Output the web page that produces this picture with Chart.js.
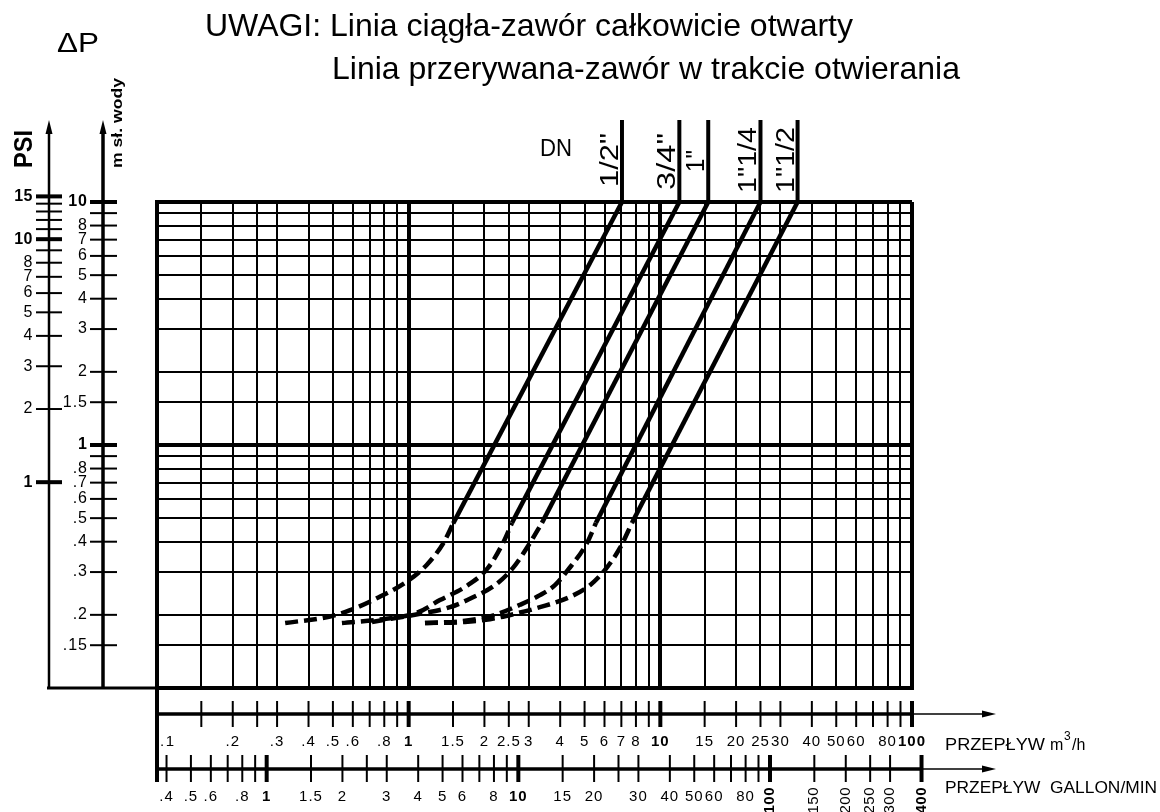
<!DOCTYPE html>
<html><head><meta charset="utf-8">
<script src="https://cdn.jsdelivr.net/npm/chart.js@4.4.0/dist/chart.umd.min.js"></script>
<style>html,body{margin:0;padding:0;background:#fff;}canvas{display:block;}</style>
</head><body>
<canvas id="c" width="1160" height="812" style="width:1160px;height:812px"></canvas>
<script>
// ---------- DATA ----------
const flowGrid = [0.1,0.15,0.2,0.25,0.3,0.4,0.5,0.6,0.7,0.8,0.9,1,1.5,2,2.5,3,4,5,6,7,8,9,10,15,20,25,30,40,50,60,70,80,90,100];
const dpGrid = [0.1,0.15,0.2,0.3,0.4,0.5,0.6,0.7,0.8,0.9,1,1.5,2,3,4,5,6,7,8,9,10];
const flowLabelValues = [0.1,0.2,0.3,0.4,0.5,0.6,0.8,1,1.5,2,2.5,3,4,5,6,7,8,10,15,20,25,30,40,50,60,80,100];
const flowLabelTexts = ['.1','.2','.3','.4','.5','.6','.8','1','1.5','2','2.5','3','4','5','6','7','8','10','15','20','25','30','40','50','60','80','100'];
const gpmTickValues = [0.4,0.5,0.6,0.7,0.8,0.9,1,1.5,2,2.5,3,4,5,6,7,8,9,10,15,20,25,30,40,50,60,70,80,90,100,150,200,250,300,400];
const gpmLabelValues = [0.4,0.5,0.6,0.8,1,1.5,2,3,4,5,6,8,10,15,20,30,40,50,60,80,100,150,200,250,300,400];
const gpmLabelTexts = ['.4','.5','.6','.8','1','1.5','2','3','4','5','6','8','10','15','20','30','40','50','60','80','100','150','200','250','300','400'];
const mTickValues = [0.15,0.2,0.3,0.4,0.5,0.6,0.7,0.8,0.9,1,1.5,2,3,4,5,6,7,8,9,10];
const mLabelValues = [10,8,7,6,5,4,3,2,1.5,1,0.8,0.7,0.6,0.5,0.4,0.3,0.2,0.15];
const mLabelTexts = ['10','8','7','6','5','4','3','2','1.5','1','.8','.7','.6','.5','.4','.3','.2','.15'];
const psiTickValues = [15,14,13,12,11,10,9,8,7,6,5,4,3,2,1];
const psiLabelValues = [15,10,8,7,6,5,4,3,2,1];
const PSI_TO_M = 0.70307;      // 1 psi in m of water
const M3H_TO_GPM = 3.6662;     // 1 m3/h in imperial gallons/min

const dnNames = ['1/2"', '3/4"', '1"', '1"1/4', '1"1/2'];
// valve opening (dashed) : flow m3/h, pressure drop m
const partQ_12  = [0.323, 0.487, 0.585, 0.746, 0.982, 1.179, 1.372, 1.503];
const partDP_12 = [0.185, 0.197, 0.209, 0.234, 0.274, 0.321, 0.394, 0.476];
const partQ_34  = [0.543, 0.791, 1.079, 1.331, 1.720, 2.066, 2.370, 2.573];
const partDP_34 = [0.185, 0.192, 0.204, 0.230, 0.265, 0.312, 0.395, 0.478];
const partQ_1   = [0.715, 1.109, 1.459, 1.784, 2.202, 2.597, 3.033, 3.385];
const partDP_1  = [0.187, 0.202, 0.215, 0.235, 0.265, 0.312, 0.395, 0.478];
const partQ_114  = [1.161, 1.674, 2.202, 2.768, 3.323, 3.813, 4.295, 5.110, 5.548];
const partDP_114 = [0.185, 0.189, 0.200, 0.220, 0.241, 0.265, 0.306, 0.395, 0.478];
const partQ_112  = [1.161, 1.674, 2.104, 2.645, 3.323, 4.374, 5.253, 6.025, 6.913, 7.714];
const partDP_112 = [0.185, 0.187, 0.192, 0.202, 0.215, 0.237, 0.265, 0.306, 0.377, 0.478];
// valve fully open (solid)
const fullQ_12  = [1.503, 7.04];  const fullDP_12  = [0.476, 10];
const fullQ_34  = [2.573, 11.9];  const fullDP_34  = [0.478, 10];
const fullQ_1   = [3.385, 15.5];  const fullDP_1   = [0.478, 10];
const fullQ_114 = [5.548, 25.0];  const fullDP_114 = [0.478, 10];
const fullQ_112 = [7.714, 35.1];  const fullDP_112 = [0.478, 10];

const partSets = [[partQ_12,partDP_12],[partQ_34,partDP_34],[partQ_1,partDP_1],[partQ_114,partDP_114],[partQ_112,partDP_112]];
const fullSets = [[fullQ_12,fullDP_12],[fullQ_34,fullDP_34],[fullQ_1,fullDP_1],[fullQ_114,fullDP_114],[fullQ_112,fullDP_112]];

// ---------- CHART ----------
const FONT = '"Liberation Sans", Arial, Helvetica, sans-serif';
const pts = (qs, ps) => qs.map((q, i) => ({x: q, y: ps[i]}));
const datasets = [];
partSets.forEach((s, i) => datasets.push({label: dnNames[i] + ' otw.', data: pts(s[0], s[1]), showLine: true, borderColor: '#000', borderWidth: 4.5, borderDash: [13, 6], pointRadius: 0, cubicInterpolationMode: 'monotone', fill: false}));
fullSets.forEach((s, i) => datasets.push({label: dnNames[i], data: pts(s[0], s[1]), showLine: true, borderColor: '#000', borderWidth: 4.5, pointRadius: 0, fill: false}));

function txt(ctx, s, x, y, o) {
  ctx.save();
  ctx.font = (o.weight || 'normal') + ' ' + o.size + 'px ' + FONT;
  try { ctx.letterSpacing = (o.ls || 0) + 'px'; } catch (e) {}
  ctx.textAlign = o.align || 'left';
  ctx.textBaseline = o.base || 'alphabetic';
  ctx.translate(x, y);
  if (o.rot) ctx.rotate(o.rot);
  if (o.width) { const w = ctx.measureText(s).width; ctx.scale(o.width / w, 1); }
  ctx.fillStyle = '#000';
  ctx.fillText(s, 0, 0);
  ctx.restore();
}
function seg(ctx, x1, y1, x2, y2, w) { ctx.lineWidth = w; ctx.beginPath(); ctx.moveTo(x1, y1); ctx.lineTo(x2, y2); ctx.stroke(); }
function arrowUp(ctx, x, y) { ctx.beginPath(); ctx.moveTo(x, y); ctx.lineTo(x - 3.5, y + 14); ctx.lineTo(x + 3.5, y + 14); ctx.closePath(); ctx.fill(); }
function arrowRight(ctx, x, y) { ctx.beginPath(); ctx.moveTo(x, y); ctx.lineTo(x - 14, y - 3.5); ctx.lineTo(x - 14, y + 3.5); ctx.closePath(); ctx.fill(); }

const decor = {
  id: 'decor',
  beforeDraw(c) { const ctx = c.ctx; ctx.save(); ctx.fillStyle = '#fff'; ctx.fillRect(0, 0, c.width, c.height); ctx.restore(); },
  afterDraw(c) {
    const ctx = c.ctx, X = c.scales.x, Y = c.scales.y, A = c.chartArea;
    ctx.save();
    ctx.strokeStyle = '#000'; ctx.fillStyle = '#000'; ctx.lineCap = 'butt';
    // titles
    txt(ctx, 'UWAGI: Linia ciągła-zawór całkowicie otwarty', 205, 36, {size: 32, width: 648});
    txt(ctx, 'Linia przerywana-zawór w trakcie otwierania', 332, 79, {size: 32, width: 628});
    txt(ctx, 'ΔP', 57, 52, {size: 27, width: 42});
    txt(ctx, 'PSI', 32, 168, {size: 25, weight: 'bold', rot: -Math.PI / 2, width: 38});
    txt(ctx, 'm sł. wody', 122, 168, {size: 15, weight: 'bold', rot: -Math.PI / 2, width: 90});
    // left axes
    const yb = A.bottom;
    seg(ctx, 49, 130, 49, yb + 1, 2.5); arrowUp(ctx, 49, 120);
    seg(ctx, 103, 130, 103, yb + 1, 3.5); arrowUp(ctx, 103, 120);
    seg(ctx, 47, yb, A.left, yb, 3);
    psiTickValues.forEach(p => {
      const y = Y.getPixelForValue(p * PSI_TO_M);
      seg(ctx, 36, y, 62, y, (p === 15 || p === 10 || p === 1) ? 4 : 2);
    });
    psiLabelValues.forEach(p => {
      const y = Y.getPixelForValue(p * PSI_TO_M);
      txt(ctx, String(p), 33, y, {size: 16, weight: (p === 15 || p === 10 || p === 1) ? 'bold' : 'normal', align: 'right', base: 'middle', ls: 0.5});
    });
    mTickValues.forEach(v => {
      const y = Y.getPixelForValue(v);
      seg(ctx, 90, y, 117, y, (v === 10 || v === 1) ? 4 : 2);
    });
    mLabelValues.forEach((v, i) => {
      const y = Y.getPixelForValue(v);
      txt(ctx, mLabelTexts[i], 88, y, {size: 16, weight: (v === 10 || v === 1) ? 'bold' : 'normal', align: 'right', base: 'middle', ls: 1});
    });
    // bottom axes
    seg(ctx, A.left, yb - 2, A.left, 782, 4);
    const yF = 714, yG = 769;
    seg(ctx, A.left, yF, A.right, yF, 3.5); seg(ctx, A.right, yF, 985, yF, 1.5); arrowRight(ctx, 996, yF);
    flowGrid.forEach(v => {
      if (v === 0.1) return;
      const x = X.getPixelForValue(v);
      seg(ctx, x, 701, x, 727, (v === 1 || v === 10 || v === 100) ? 4 : 2);
    });
    flowLabelValues.forEach((v, i) => {
      const x = X.getPixelForValue(v);
      const b = (v === 1 || v === 10 || v === 100);
      if (v === 0.1) txt(ctx, flowLabelTexts[i], x + 3, 742, {size: 15, align: 'left', base: 'middle', ls: 1.5});
      else txt(ctx, flowLabelTexts[i], x, 742, {size: 15, weight: b ? 'bold' : 'normal', align: 'center', base: 'middle', ls: 1});
    });
    const xG = g => X.getPixelForValue(g / M3H_TO_GPM);
    seg(ctx, A.left, yG, xG(400), yG, 3.5); seg(ctx, xG(400), yG, 985, yG, 1.5); arrowRight(ctx, 996, yG);
    gpmTickValues.forEach(g => {
      const x = xG(g);
      seg(ctx, x, 755, x, 782, (g === 1 || g === 10 || g === 100 || g === 400) ? 4 : 2);
    });
    gpmLabelValues.forEach((g, i) => {
      const x = xG(g);
      const b = (g === 1 || g === 10 || g === 100 || g === 400);
      if (g >= 100) txt(ctx, gpmLabelTexts[i], x, 787, {size: 15, weight: b ? 'bold' : 'normal', align: 'right', base: 'middle', rot: -Math.PI / 2, ls: 0.5});
      else txt(ctx, gpmLabelTexts[i], x, 797, {size: 15, weight: b ? 'bold' : 'normal', align: 'center', base: 'middle', ls: 1});
    });
    txt(ctx, 'PRZEPŁYW', 945, 750, {size: 16, width: 100});
    txt(ctx, 'm', 1050, 750, {size: 16});
    txt(ctx, '3', 1064, 740, {size: 12});
    txt(ctx, '/h', 1072, 750, {size: 16});
    txt(ctx, 'PRZEPŁYW  GALLON/MIN', 945, 793, {size: 16, width: 212});
    // DN marks
    txt(ctx, 'DN', 540, 156, {size: 24, width: 32});
    const dnStart = [187, 190, 172, 193, 193];
    const dnLen = [54, 57, 22, 66, 66];
    fullSets.forEach((s, i) => {
      const q = s[0][s[0].length - 1];
      const x = X.getPixelForValue(q);
      seg(ctx, x, A.top, x, 120, 4);
      txt(ctx, dnNames[i], x - 4, dnStart[i], {size: 25, rot: -Math.PI / 2, width: dnLen[i]});
    });
    ctx.restore();
  }
};

const thick = v => (v === 1 || v === 10 || v === 0.1 || v === 100);
new Chart(document.getElementById('c'), {
  type: 'scatter',
  data: {datasets},
  options: {
    responsive: false, animation: false, devicePixelRatio: 1,
    layout: {padding: {left: 157, right: 248, top: 202, bottom: 124}},
    plugins: {legend: {display: false}, tooltip: {enabled: false}, title: {display: false}},
    scales: {
      x: {type: 'logarithmic', min: 0.1, max: 100,
          afterBuildTicks: s => { s.ticks = flowGrid.map(v => ({value: v})); },
          ticks: {display: false},
          grid: {color: '#000', drawTicks: false, lineWidth: ctx => thick(ctx.tick && ctx.tick.value) ? 4 : 2},
          border: {display: true, color: '#000', width: 4}},
      y: {type: 'logarithmic', min: 0.1, max: 10,
          afterBuildTicks: s => { s.ticks = dpGrid.map(v => ({value: v})); },
          ticks: {display: false},
          grid: {color: '#000', drawTicks: false, lineWidth: ctx => thick(ctx.tick && ctx.tick.value) ? 4 : 2},
          border: {display: true, color: '#000', width: 4}}
    }
  },
  plugins: [decor]
});
</script>
</body></html>
